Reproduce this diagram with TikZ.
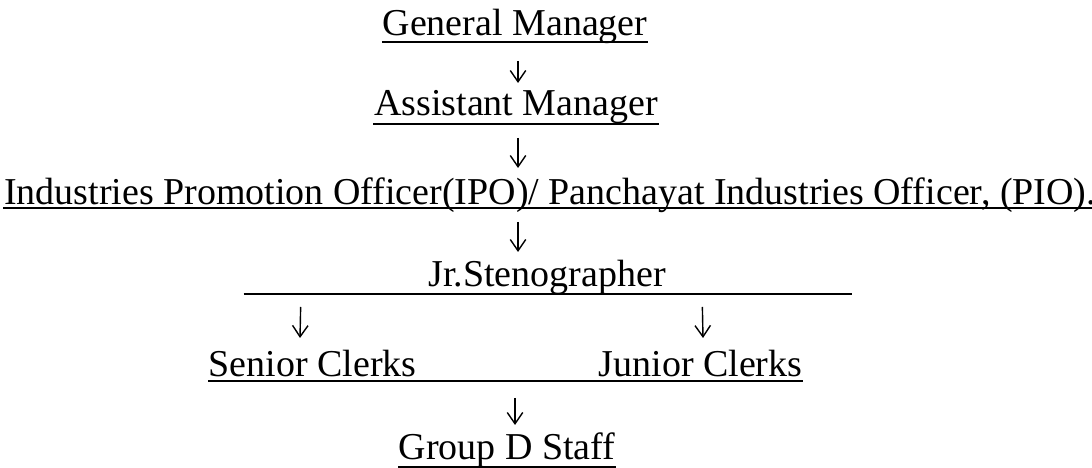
\documentclass[tikz,border=0pt]{standalone}
\usepackage{fontspec}
\setmainfont{Liberation Serif}
\usepackage{tikz}
\usetikzlibrary{arrows.meta, positioning, calc}

\tikzset{
	post/.style={font=\fontsize{10.8pt}{13pt}\selectfont, inner sep=0pt, anchor=base},
	uline/.style={line width=0.55pt},
	conn/.style={line width=0.4pt, -{Straight Barb[length=3.2pt,width=4.4pt]}}
}

\begin{document}
\begin{tikzpicture}[x=0.01cm,y=-0.01cm]
				\useasboundingbox (0,0) rectangle (1092,468);
				
				%nodes
				\node[post] (gm) at (515,36) {General Manager};
				\node[post] (am) at (516,116) {Assistant Manager};
				\node[post] (ipo) at (550,205) {Industries Promotion Officer(IPO)/ Panchayat Industries Officer, (PIO).};
				\node[post] (js) at (547,287) {Jr.Stenographer};
				\node[post, anchor=base west] (sc) at (208,377) {Senior Clerks};
				\node[post, anchor=base west] (jc) at (598,377) {Junior Clerks};
				\node[post] (gd) at (507,460) {Group D Staff};
				
				%underlines
				\draw[uline] ($(gm.base west)+(0,6)$) -- ($(gm.base east)+(0,6)$);
				\draw[uline] ($(am.base west)+(0,8)$) -- ($(am.base east)+(0,8)$);
				\draw[uline] ($(ipo.base west)+(0,3)$) -- ($(ipo.base east)+(0,3)$);
				\coordinate (jsl) at ($(js.base west)+(-184,7)$);
				\coordinate (jsr) at ($(js.base east)+(186,7)$);
				\draw[uline] (jsl) -- (jsr);
				\draw[uline] ($(sc.base west)+(0,4)$) -- ($(jc.base east)+(0,4)$);
				\draw[uline] ($(gd.base west)+(0,7)$) -- ($(gd.base east)+(0,7)$);
				
				%arrows
				\draw[conn] ($(gm.base)+(3,25)$) -- ($(am.base)+(2,-33)$);
				\draw[conn] ($(am.base)+(2,22)$) -- ($(ipo.base)+(-32,-37)$);
				\draw[conn] ($(ipo.base)+(-32,17)$) -- ($(js.base)+(-29,-35)$);
				\draw[conn] ($(jsl)+(57,13)$) -- ($(sc.base west)+(92,-39)$);
				\draw[conn] ($(jsr)+(-150,13)$) -- ($(jc.base west)+(105,-39)$);
				\draw[conn] ($(sc.base west)+(307,21)$) -- ($(gd.base)+(8,-35)$);
\end{tikzpicture}
\end{document}
